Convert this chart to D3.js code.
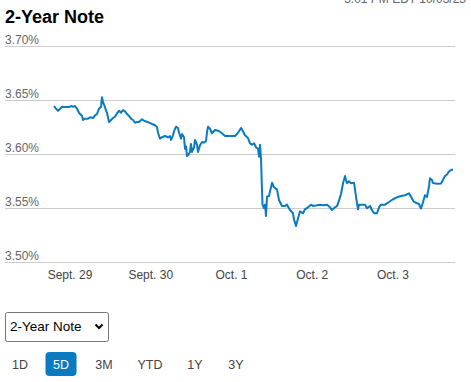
<!DOCTYPE html>
<html>
<head>
<meta charset="utf-8">
<script src="https://cdn.jsdelivr.net/npm/d3@7"></script>
<style>
  html, body { margin: 0; padding: 0; background: #fff; }
  svg { display: block; font-family: "Liberation Sans", Arial, sans-serif; }
</style>
</head>
<body>
<div id="chart"></div>
<script>
// tick labels
var yTicks = [3.50, 3.55, 3.60, 3.65, 3.70];
var dayLabels = ['Sept. 29', 'Sept. 30', 'Oct. 1', 'Oct. 2', 'Oct. 3'];
var dayPos = [0, 1, 2, 3, 4];
var ranges = ['1D', '5D', '3M', 'YTD', '1Y', '3Y'];
var activeRange = '5D';

// time in day units (0 = Sept. 29 label), yield in %
var times = [
  -0.198, -0.173, -0.149, -0.124, -0.099, -0.062, -0.012, 0.012, 0.037, 0.062,
  0.087, 0.111, 0.149, 0.161, 0.186, 0.223, 0.248, 0.285, 0.310, 0.334,
  0.359, 0.384, 0.396, 0.409, 0.433, 0.446, 0.458, 0.483, 0.508, 0.533,
  0.557, 0.582, 0.607, 0.632, 0.656, 0.681, 0.706, 0.731, 0.755, 0.780,
  0.805, 0.830, 0.854, 0.892, 0.929, 0.966, 1.015, 1.053, 1.077, 1.090,
  1.115, 1.139, 1.176, 1.214, 1.238, 1.251, 1.276, 1.288, 1.313, 1.337,
  1.350, 1.375, 1.387, 1.412, 1.424, 1.437, 1.449, 1.461, 1.486, 1.498,
  1.511, 1.536, 1.548, 1.573, 1.585, 1.610, 1.635, 1.659, 1.684, 1.697,
  1.709, 1.734, 1.759, 1.796, 1.833, 1.882, 1.920, 1.957, 2.006, 2.043,
  2.068, 2.093, 2.118, 2.142, 2.167, 2.204, 2.229, 2.254, 2.279, 2.303,
  2.328, 2.341, 2.353, 2.365, 2.378, 2.384, 2.402, 2.415, 2.427, 2.440,
  2.464, 2.502, 2.526, 2.563, 2.588, 2.625, 2.663, 2.687, 2.724, 2.762,
  2.774, 2.799, 2.824, 2.848, 2.885, 2.910, 2.947, 2.985, 3.009, 3.059,
  3.096, 3.133, 3.183, 3.220, 3.245, 3.282, 3.307, 3.331, 3.356, 3.381,
  3.406, 3.418, 3.430, 3.455, 3.480, 3.517, 3.542, 3.567, 3.579, 3.616,
  3.653, 3.678, 3.715, 3.740, 3.765, 3.802, 3.827, 3.851, 3.901, 3.950,
  4.000, 4.050, 4.099, 4.149, 4.198, 4.223, 4.260, 4.297, 4.322, 4.347,
  4.372, 4.396, 4.421, 4.446, 4.458, 4.483, 4.495, 4.545, 4.594, 4.619,
  4.644, 4.669, 4.693, 4.718, 4.743
];
var yields = [
  3.6444, 3.6419, 3.6401, 3.6419, 3.6438, 3.6435, 3.6435, 3.6444, 3.6438, 3.6444,
  3.6419, 3.6382, 3.6352, 3.6315, 3.6327, 3.6327, 3.6340, 3.6333, 3.6358, 3.6370,
  3.6419, 3.6438, 3.6525, 3.6481, 3.6435, 3.6401, 3.6382, 3.6296, 3.6315, 3.6333,
  3.6345, 3.6377, 3.6401, 3.6382, 3.6407, 3.6395, 3.6370, 3.6352, 3.6327, 3.6315,
  3.6290, 3.6296, 3.6296, 3.6321, 3.6303, 3.6296, 3.6278, 3.6266, 3.6250, 3.6197,
  3.6142, 3.6155, 3.6167, 3.6155, 3.6167, 3.6130, 3.6173, 3.6210, 3.6253, 3.6241,
  3.6197, 3.6142, 3.6185, 3.6155, 3.6049, 3.6068, 3.5981, 3.5988, 3.6019, 3.6093,
  3.6019, 3.6062, 3.6130, 3.6086, 3.6019, 3.6081, 3.6111, 3.6105, 3.6118, 3.6204,
  3.6253, 3.6234, 3.6192, 3.6222, 3.6216, 3.6192, 3.6167, 3.6167, 3.6167, 3.6167,
  3.6185, 3.6210, 3.6241, 3.6210, 3.6173, 3.6148, 3.6099, 3.6086, 3.6099, 3.6062,
  3.6049, 3.5975, 3.6086, 3.5963, 3.5657, 3.5531, 3.5500, 3.5531, 3.5426, 3.5605,
  3.5611, 3.5734, 3.5692, 3.5673, 3.5574, 3.5519, 3.5519, 3.5531, 3.5481, 3.5451,
  3.5395, 3.5333, 3.5405, 3.5469, 3.5451, 3.5488, 3.5506, 3.5531, 3.5519, 3.5525,
  3.5531, 3.5525, 3.5531, 3.5506, 3.5481, 3.5506, 3.5519, 3.5568, 3.5630, 3.5729,
  3.5796, 3.5759, 3.5729, 3.5747, 3.5729, 3.5734, 3.5605, 3.5488, 3.5531, 3.5531,
  3.5531, 3.5497, 3.5519, 3.5481, 3.5451, 3.5451, 3.5506, 3.5531, 3.5531, 3.5556,
  3.5581, 3.5599, 3.5611, 3.5618, 3.5636, 3.5605, 3.5556, 3.5544, 3.5537, 3.5495,
  3.5556, 3.5618, 3.5602, 3.5704, 3.5775, 3.5759, 3.5731, 3.5725, 3.5727, 3.5762,
  3.5796, 3.5810, 3.5838, 3.5852, 3.5856
];

var W = 471, H = 382;
var svg = d3.select('#chart').append('svg').attr('width', W).attr('height', H);

var x = d3.scaleLinear().domain([0, 4]).range([70, 393]);
var y = d3.scaleLinear().domain([3.50, 3.70]).range([262, 46]);

// timestamp, clipped at the top of the page
svg.append('text')
  .attr('x', 466).attr('y', 3)
  .attr('text-anchor', 'end')
  .attr('font-size', 12).attr('fill', '#666')
  .text('3:01 PM EDT 10/03/23');

// title
svg.append('text')
  .attr('x', 5).attr('y', 23)
  .attr('font-size', 18).attr('font-weight', 'bold').attr('fill', '#000')
  .text('2-Year Note');

// gridlines and y labels
var grid = svg.append('g');
grid.selectAll('line').data(yTicks).enter().append('line')
  .attr('x1', 5).attr('x2', 455)
  .attr('y1', function(d){ return Math.round(y(d)) + 0.5; })
  .attr('y2', function(d){ return Math.round(y(d)) + 0.5; })
  .attr('stroke', '#cccccc').attr('stroke-width', 1);
grid.selectAll('text').data(yTicks).enter().append('text')
  .attr('x', 5)
  .attr('y', function(d){ return y(d) - 2; })
  .attr('font-size', 12).attr('fill', '#666')
  .text(function(d){ return d.toFixed(2) + '%'; });

// x labels
svg.append('g').selectAll('text').data(dayPos).enter().append('text')
  .attr('x', function(d){ return x(d); })
  .attr('y', 279)
  .attr('text-anchor', 'middle')
  .attr('font-size', 12).attr('fill', '#444')
  .text(function(d, i){ return dayLabels[i]; });

// the yield line
var line = d3.line()
  .x(function(d){ return x(d); })
  .y(function(d, i){ return y(yields[i]); });

svg.append('path')
  .datum(times)
  .attr('d', line)
  .attr('fill', 'none')
  .attr('stroke', '#0a7bc1')
  .attr('stroke-width', 2)
  .attr('stroke-linejoin', 'round');

// dropdown
var sel = svg.append('g');
sel.append('rect')
  .attr('x', 5.5).attr('y', 312.5).attr('width', 103).attr('height', 29)
  .attr('rx', 2).attr('fill', '#fff').attr('stroke', '#767676');
sel.append('text')
  .attr('x', 10).attr('y', 331)
  .attr('font-size', 13.5).attr('fill', '#000')
  .text('2-Year Note');
sel.append('path')
  .attr('d', 'M95.5,324.5 L99,328 L102.5,324.5')
  .attr('fill', 'none').attr('stroke', '#000').attr('stroke-width', 2);

// range buttons
var btnX = [20, 61, 104, 150, 195, 236];
var btns = svg.append('g').selectAll('g').data(ranges).enter().append('g')
  .attr('transform', function(d, i){ return 'translate(' + btnX[i] + ',364)'; });
btns.filter(function(d){ return d === activeRange; }).append('rect')
  .attr('x', -15.5).attr('y', -12).attr('width', 31).attr('height', 24)
  .attr('rx', 4).attr('fill', '#0a7bc1');
btns.append('text')
  .attr('y', 4.5)
  .attr('text-anchor', 'middle')
  .attr('font-size', 12.5)
  .attr('fill', function(d){ return d === activeRange ? '#fff' : '#444'; })
  .text(function(d){ return d; });
</script>
</body>
</html>
